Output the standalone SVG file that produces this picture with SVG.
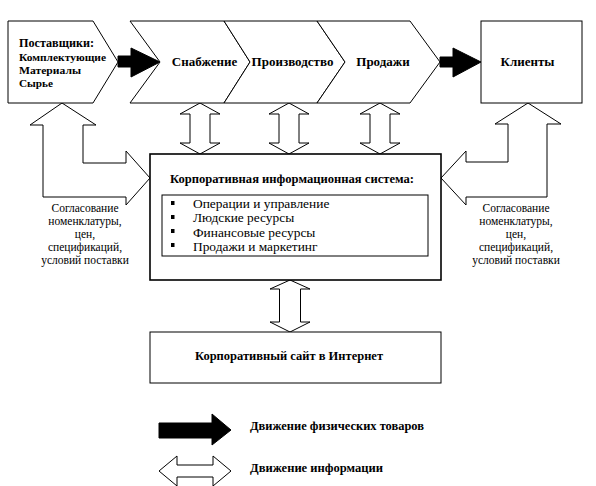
<svg xmlns="http://www.w3.org/2000/svg" width="596" height="486" viewBox="0 0 596 486">
<style>
.s{fill:#fff;stroke:#000;stroke-width:1}
.b{fill:#000;stroke:#000;stroke-width:1}
.box{fill:#fff;stroke:#000;stroke-width:1.6}
text{font-family:"Liberation Serif","Times New Roman",serif;fill:#000}
.bd{font-weight:bold}
.t{font-size:13px;font-weight:bold}
.it{font-size:13.4px}
.cap{font-size:11.5px;text-anchor:middle}
</style>
<rect width="596" height="486" fill="#fff"/>
<g id="connectors">
<path class="b" d="M118,56 H131 V48 L160,62 L131,77 V67 H118 Z"/>
<path class="b" d="M440,57 H453 V48 L481,62 L453,77 V67 H440 Z"/>
<path class="s" d="M62,103 L96,125 L83,125 L83,163 L126,163 L126,151 L150,178 L126,205 L126,197 L43,197 L43,125 L30,125 Z"/>
<path class="s" d="M528,103 L561,124 L547,124 L547,197 L466,197 L466,205 L441,178 L466,151 L466,162 L508,162 L508,124 L495,124 Z"/>
<path class="s" d="M200,103 L220,114 H210 V143 H220 L200,154 L180,143 H190 V114 H180 Z"/>
<path class="s" d="M289,103 L309,114 H299 V143 H309 L289,154 L269,143 H279 V114 H269 Z"/>
<path class="s" d="M380,103 L400,114 H390 V143 H400 L380,154 L360,143 H370 V114 H360 Z"/>
<path class="s" d="M290,280 L310,289 H300.5 V322 H310 L290,332 L270,322 H279.5 V289 H270 Z"/>
</g>
<g id="supplier">
<path class="s" d="M8,21 H93 L118,62 L93,103 H8 Z"/>
<text class="bd" x="19" y="47" font-size="13" textLength="75" lengthAdjust="spacingAndGlyphs">Поставщики:</text>
<text class="bd" x="19" y="61" font-size="11" textLength="87" lengthAdjust="spacingAndGlyphs">Комплектующие</text>
<text class="bd" x="19" y="74" font-size="11" textLength="62" lengthAdjust="spacingAndGlyphs">Материалы</text>
<text class="bd" x="19" y="87" font-size="11" textLength="34" lengthAdjust="spacingAndGlyphs">Сырье</text>
</g>
<g id="supply">
<path class="s" d="M130,21 H224 L250,62 L224,103 H130 L160,62 Z"/>
<text class="t" x="204.5" y="66" text-anchor="middle">Снабжение</text>
</g>
<g id="production">
<path class="s" d="M224,21 H317 L345,62 L317,103 H224 L250,62 Z"/>
<text class="t" x="292.5" y="66" text-anchor="middle">Производство</text>
</g>
<g id="sales">
<path class="s" d="M317,21 H410 L440,62 L410,103 H317 L345,62 Z"/>
<text class="t" x="383" y="66" text-anchor="middle">Продажи</text>
</g>
<g id="clients">
<rect class="s" x="481" y="21" width="101" height="82"/>
<text class="t" x="527.5" y="66" text-anchor="middle">Клиенты</text>
</g>
<g id="cis">
<rect class="box" x="150" y="154" width="291" height="126"/>
<text class="t" x="170" y="183" textLength="244" lengthAdjust="spacingAndGlyphs">Корпоративная информационная система:</text>
<rect class="s" x="162" y="195" width="266" height="61"/>
<rect x="171" y="201" width="3.5" height="4" fill="#000"/>
<rect x="171" y="215" width="3.5" height="4" fill="#000"/>
<rect x="171" y="229" width="3.5" height="4" fill="#000"/>
<rect x="171" y="243" width="3.5" height="4" fill="#000"/>
<text class="it" x="193" y="208">Операции и управление</text>
<text class="it" x="193" y="222">Людские ресурсы</text>
<text class="it" x="193" y="237">Финансовые ресурсы</text>
<text class="it" x="193" y="251">Продажи и маркетинг</text>
</g>
<g id="caption-left">
<text class="cap" x="85" y="212">Согласование</text>
<text class="cap" x="85" y="225">номенклатуры,</text>
<text class="cap" x="85" y="238">цен,</text>
<text class="cap" x="85" y="251">спецификаций,</text>
<text class="cap" x="85" y="264">условий поставки</text>
</g>
<g id="caption-right">
<text class="cap" x="516" y="212">Согласование</text>
<text class="cap" x="516" y="225">номенклатуры,</text>
<text class="cap" x="516" y="238">цен,</text>
<text class="cap" x="516" y="251">спецификаций,</text>
<text class="cap" x="516" y="264">условий поставки</text>
</g>
<g id="website">
<rect class="s" x="150" y="332" width="291" height="51"/>
<text class="bd" x="289" y="360" font-size="12.5" text-anchor="middle">Корпоративный сайт в Интернет</text>
</g>
<g id="legend">
<path class="b" d="M159,423 H212 V414 L231,430 L212,445 V438 H159 Z"/>
<text class="bd" x="250" y="430" font-size="12" textLength="174" lengthAdjust="spacingAndGlyphs">Движение физических товаров</text>
<path class="s" d="M159,471 L177,456 V465 H213 V456 L231,471 L213,486 V477 H177 V486 Z"/>
<text class="bd" x="250" y="472" font-size="12" textLength="133" lengthAdjust="spacingAndGlyphs">Движение информации</text>
</g>
</svg>
